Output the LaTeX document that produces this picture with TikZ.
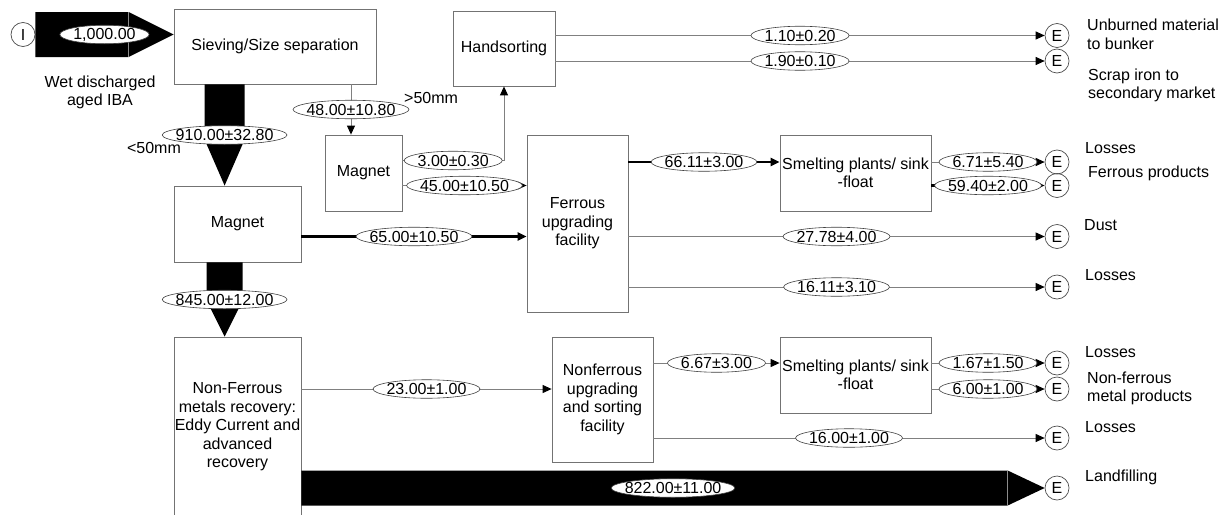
\documentclass[tikz,border=0pt]{standalone}
\usepackage{fontspec}
\setmainfont{Liberation Sans}
\usetikzlibrary{calc,positioning,shapes.geometric,arrows.meta}
\tikzset{
  proc/.style={
    draw = black!55,
    line width = 0.8pt,
    align = center,
    inner sep = 0pt
  },
  terminal/.style={
    shape = circle,
    draw = black!70,
    line width = 0.7pt,
    minimum size = 24pt,
    inner sep = 0pt
  },
  qty/.style={
    shape = ellipse,
    draw = black!75,
    line width = 0.6pt,
    fill = white,
    inner xsep = -20pt,
    inner ysep = -5pt,
    minimum width = {\wd\pgfnodeparttextbox+27pt},
    minimum height = 18.5pt
  },
  sidelbl/.style={
    anchor = west,
    align = left,
    inner sep = 0pt
  },
  lineflow/.style={
    draw = black!50,
    line width = 1pt,
    -{Triangle[length=9pt, width=8pt, color=black]}
  },
  thickflow/.style={
    lineflow,
    draw = black,
    line width = 2.2pt
  },
  jointline/.style={
    draw = black!45,
    line width = 0.5pt
  }
}
% block arrow: from, to, half width, head length, amount
\newcommand{\bigflow}[5]{%
  \coordinate (bfS) at (#1);
  \coordinate (bfT) at (#2);
  \coordinate (bfH) at ($(bfT)!#4!(bfS)$);
  \fill ($(bfS)!#3!90:(bfT)$) -- ($(bfH)!#3!90:(bfT)$) -- (bfT)
    -- ($(bfH)!#3!-90:(bfT)$) -- ($(bfS)!#3!-90:(bfT)$) -- cycle;
  \draw[jointline] ($(bfH)!#3!90:(bfT)$) -- ($(bfH)!#3!-90:(bfT)$);
  \path (bfS) -- node[qty] {#5} (bfT);
}

\begin{document}
\begin{tikzpicture}[x=1pt, y=-1pt, font=\fontsize{16}{18.5}\selectfont]
  \useasboundingbox (0,0) rectangle (1222,514);

  % process boxes
  \node[proc, minimum width=202pt, minimum height=75pt] (sieve) at (275,46.5) {Sieving/Size separation};
  \node[proc, minimum width=102pt, minimum height=75pt] (hand) at (504,48.5) {Handsorting};
  \node[proc, minimum width=77pt, minimum height=76pt] (magsmall) at (363.5,173) {Magnet};
  \node[proc, minimum width=101pt, minimum height=177pt] (ferup) at (577.5,223.5) {Ferrous\\upgrading\\facility};
  \node[proc, minimum width=151pt, minimum height=76pt] (smeltfe) at (855.5,173) {Smelting plants/ sink\\-float};
  \node[proc, minimum width=127pt, minimum height=76pt] (magnet) at (237.5,224) {Magnet};
  \node[proc, minimum width=127pt, minimum height=180pt] (nonfe) at (237.5,427) {Non-Ferrous\\metals recovery:\\Eddy Current and\\advanced\\recovery};
  \node[proc, minimum width=101pt, minimum height=125pt] (nonup) at (602.5,399.5) {Nonferrous\\upgrading\\and sorting\\facility};
  \node[proc, minimum width=151pt, minimum height=76pt] (smeltnf) at (855.5,375) {Smelting plants/ sink\\-float};

  % input and exits
  \node[terminal] (in) at (23,34.5) {I};
  \foreach \n/\y in {unb/35.5, scr/61, lossA/162, fer/185.5, dust/236.5, lossB/287, lossC/363, nfp/389, lossD/438, land/488}{
    \node[terminal] (e\n) at (1057,\y) {E};
  }

  % texts
  \node[align=center, inner sep=0pt] (tin) at (100,92.5) {Wet discharged\\aged IBA};
  \node[inner sep=0pt] (tfine) at (154,148) {<50mm};
  \node[sidelbl] (tcoarse) at (404,98) {>50mm};
  \node[sidelbl] (tunb) at (1087,34.5) {Unburned material\\to bunker};
  \node[sidelbl] (tscr) at (1088,85.5) {Scrap iron to\\secondary market};
  \node[sidelbl] (tlossA) at (1085,148) {Losses};
  \node[sidelbl] (tfer) at (1088,173) {Ferrous products};
  \node[sidelbl] (tdust) at (1084,225) {Dust};
  \node[sidelbl] (tlossB) at (1085,275) {Losses};
  \node[sidelbl] (tlossC) at (1085,352) {Losses};
  \node[sidelbl] (tnfp) at (1087,388.5) {Non-ferrous\\metal products};
  \node[sidelbl] (tlossD) at (1085,427) {Losses};
  \node[sidelbl] (tland) at (1085,477) {Landfilling};

  % bulk flows
  \bigflow{in.east}{sieve.west |- in.east}{22.5pt}{45pt}{1,000.00}
  \bigflow{$(sieve.south west)+(51,0)$}{bfS |- magnet.north}{20pt}{46pt}{910.00±32.80}
  \bigflow{$(magnet.south west)+(51,0)$}{bfS |- nonfe.north}{18pt}{36pt}{845.00±12.00}
  \bigflow{nonfe.east |- eland}{eland.west}{17.5pt}{37pt}{822.00±11.00}

  % other flows
  \coordinate (msin) at ([xshift=-12.5pt]magsmall.north);
  \coordinate (msA) at ([yshift=12.5pt]magsmall.east);
  \coordinate (msB) at ([yshift=-12.5pt]magsmall.east);
  \draw[lineflow] (sieve.south -| msin) -- node[qty] {48.00±10.80} (msin);
  \draw[lineflow] (msA) -| node[qty, pos=0.25] {3.00±0.30} (hand.south);
  \draw[lineflow] (msB) -- node[qty] {45.00±10.50} (ferup.west |- msB);
  \draw[lineflow] (hand.east |- eunb) -- node[qty] {1.10±0.20} (eunb);
  \draw[lineflow] (hand.east |- escr) -- node[qty] {1.90±0.10} (escr);
  \draw[thickflow] (magnet.east |- edust) -- node[qty] {65.00±10.50} (ferup.west |- edust);
  \draw[thickflow] (ferup.east |- elossA) -- node[qty] {66.11±3.00} (smeltfe.west |- elossA);
  \draw[lineflow] (smeltfe.east |- elossA) -- node[qty] {6.71±5.40} (elossA);
  \draw[thickflow] (smeltfe.east |- efer) -- node[qty] {59.40±2.00} (efer);
  \draw[lineflow] (ferup.east |- edust) -- node[qty] {27.78±4.00} (edust);
  \draw[lineflow] (ferup.east |- elossB) -- node[qty] {16.11±3.10} (elossB);
  \draw[lineflow] (nonfe.east |- enfp) -- node[qty] {23.00±1.00} (nonup.west |- enfp);
  \draw[lineflow] (nonup.east |- elossC) -- node[qty] {6.67±3.00} (smeltnf.west |- elossC);
  \draw[lineflow] (smeltnf.east |- elossC) -- node[qty] {1.67±1.50} (elossC);
  \draw[lineflow] (smeltnf.east |- enfp) -- node[qty] {6.00±1.00} (enfp);
  \draw[lineflow] (nonup.east |- elossD) -- node[qty] {16.00±1.00} (elossD);
\end{tikzpicture}
\end{document}
